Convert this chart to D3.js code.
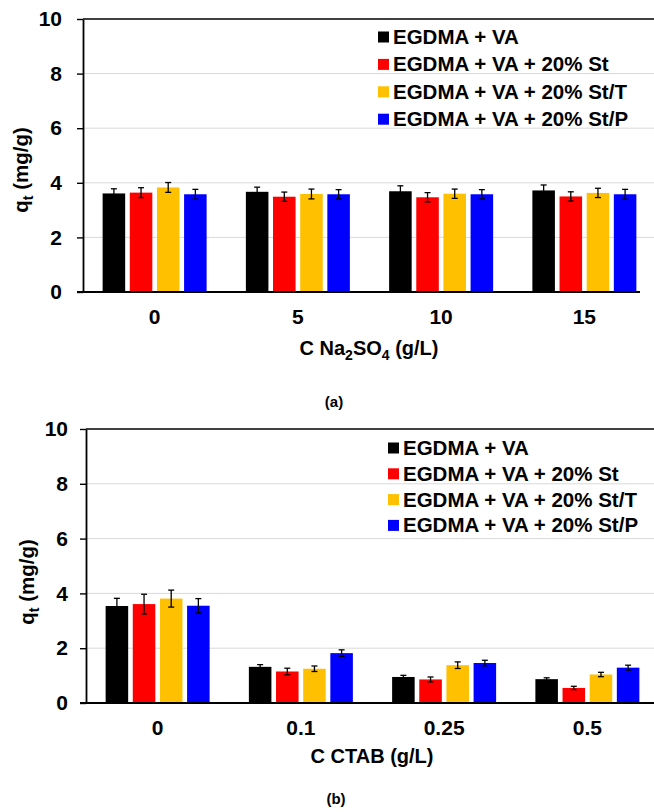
<!DOCTYPE html>
<html>
<head>
<meta charset="utf-8">
<script src="https://cdn.jsdelivr.net/npm/d3@7"></script>
<style>
  body { margin: 0; background: #fff; }
  svg { display: block; font-family: "Liberation Sans", Arial, sans-serif; }
</style>
</head>
<body>
<svg id="chart" width="654" height="812"></svg>
<script>
// series shared by both panels
const seriesNames = ["EGDMA + VA", "EGDMA + VA + 20% St", "EGDMA + VA + 20% St/T", "EGDMA + VA + 20% St/P"];
const seriesColors = ["#000000", "#ff0000", "#ffc000", "#0000ff"];
const yTicks = [0, 2, 4, 6, 8, 10];

// panel (a): Na2SO4
const catsA = ["0", "5", "10", "15"];
const valsA = [
  [3.61, 3.67, 3.69, 3.72],
  [3.64, 3.49, 3.47, 3.50],
  [3.83, 3.59, 3.60, 3.63],
  [3.58, 3.58, 3.58, 3.58]
];
const errsA = [
  [0.17, 0.17, 0.20, 0.20],
  [0.18, 0.17, 0.17, 0.17],
  [0.18, 0.18, 0.17, 0.17],
  [0.18, 0.17, 0.17, 0.18]
];

// panel (b): CTAB
const catsB = ["0", "0.1", "0.25", "0.5"];
const valsB = [
  [3.54, 1.32, 0.95, 0.87],
  [3.61, 1.15, 0.86, 0.55],
  [3.81, 1.25, 1.38, 1.04],
  [3.55, 1.82, 1.46, 1.29]
];
const errsB = [
  [0.28, 0.08, 0.06, 0.05],
  [0.36, 0.12, 0.09, 0.06],
  [0.31, 0.10, 0.12, 0.08],
  [0.26, 0.12, 0.10, 0.09]
];

const svg = d3.select("#chart");

function drawPanel(p) {
  const g = svg.append("g");
  const x = d3.scaleBand().domain(p.cats).range([p.left, p.right]);
  const xs = d3.scaleBand().domain(d3.range(seriesNames.length))
    .range([x.bandwidth() / 2 - 52, x.bandwidth() / 2 + 52]).paddingInner(0.17);
  const y = d3.scaleLinear().domain([0, 10]).range([p.bottom, p.top]);

  // gridlines
  g.append("g").selectAll("line").data(yTicks.filter(t => t > 0 && t < 10)).join("line")
    .attr("x1", p.left).attr("x2", 654)
    .attr("y1", d => y(d)).attr("y2", d => y(d))
    .attr("stroke", "#d9d9d9").attr("stroke-width", 1);

  // top border
  g.append("line").attr("x1", p.left).attr("x2", 654)
    .attr("y1", y(10)).attr("y2", y(10))
    .attr("stroke", "#000").attr("stroke-width", 1.6);

  // y axis
  const yAxis = g.append("g").attr("transform", `translate(${p.left},0)`)
    .call(d3.axisLeft(y).tickValues(yTicks).tickSize(6).tickPadding(p.tickPad).tickSizeOuter(0));
  yAxis.select(".domain").attr("stroke", "#000").attr("stroke-width", 1.8);
  yAxis.selectAll(".tick line").attr("stroke", "#000").attr("stroke-width", 1.4);
  yAxis.selectAll(".tick text").attr("font-size", 21).attr("font-weight", "bold")
    .attr("fill", "#000").attr("font-family", "Liberation Sans, Arial, sans-serif");

  // bars
  seriesNames.forEach((name, si) => {
    const sg = g.append("g");
    const rows = p.cats.map((c, ci) => ({ c, v: p.vals[si][ci], e: p.errs[si][ci] }));
    sg.selectAll("rect").data(rows).join("rect")
      .attr("x", d => x(d.c) + xs(si))
      .attr("y", d => y(d.v))
      .attr("width", xs.bandwidth())
      .attr("height", d => y(0) - y(d.v))
      .attr("fill", seriesColors[si]);
    // error bars
    const eg = sg.selectAll("g.err").data(rows).join("g").attr("class", "err")
      .attr("transform", d => `translate(${x(d.c) + xs(si) + xs.bandwidth() / 2},0)`);
    eg.append("line").attr("y1", d => y(d.v + d.e)).attr("y2", d => y(d.v - d.e))
      .attr("stroke", "#000").attr("stroke-width", 1.3);
    eg.append("line").attr("x1", -3).attr("x2", 3)
      .attr("y1", d => y(d.v + d.e)).attr("y2", d => y(d.v + d.e))
      .attr("stroke", "#000").attr("stroke-width", 1.3);
    eg.append("line").attr("x1", -3).attr("x2", 3)
      .attr("y1", d => y(d.v - d.e)).attr("y2", d => y(d.v - d.e))
      .attr("stroke", "#000").attr("stroke-width", 1.3);
  });

  // x axis line
  g.append("line").attr("x1", p.left - 6).attr("x2", p.xAxisEnd)
    .attr("y1", y(0)).attr("y2", y(0))
    .attr("stroke", "#000").attr("stroke-width", 1.8);

  // x tick labels
  g.append("g").selectAll("text").data(p.cats).join("text")
    .attr("x", d => x(d) + x.bandwidth() / 2)
    .attr("y", y(0) + 32)
    .attr("text-anchor", "middle")
    .attr("font-size", 21).attr("font-weight", "bold")
    .text(d => d);

  // x title
  const xt = g.append("text").attr("x", p.titleX).attr("y", y(0) + p.titleDy)
    .attr("text-anchor", "middle").attr("font-size", 20).attr("font-weight", "bold");
  p.xTitle.forEach(part => {
    const t = xt.append("tspan").text(part.t);
    if (part.sub) t.attr("font-size", 14).attr("dy", 5);
    else if (part.after) t.attr("dy", -5);
  });

  // y title
  const yt = g.append("text")
    .attr("transform", `translate(${p.yTitleX},${p.yTitleY}) rotate(-90)`)
    .attr("text-anchor", "middle").attr("font-size", 20.5).attr("font-weight", "bold");
  yt.append("tspan").text("q");
  yt.append("tspan").text("t").attr("font-size", 14).attr("dy", 5);
  yt.append("tspan").text(" (mg/g)").attr("dy", -5);

  // legend
  const lg = g.append("g");
  seriesNames.forEach((name, si) => {
    const ly = p.legendY + si * p.legendStep;
    lg.append("rect").attr("x", p.legendX).attr("y", ly - 5.5)
      .attr("width", 11).attr("height", 11).attr("fill", seriesColors[si]);
    lg.append("text").attr("x", p.legendX + 15).attr("y", ly + 7)
      .attr("font-size", 20.5).attr("font-weight", "bold").text(name);
  });

  // panel label
  g.append("text").attr("x", p.labelX).attr("y", p.labelY)
    .attr("text-anchor", "middle").attr("font-size", 15).attr("font-weight", "bold")
    .text(p.label);
}

drawPanel({
  cats: catsA, vals: valsA, errs: errsA,
  left: 83, right: 656, top: 19, bottom: 292, xAxisEnd: 640, tickPad: 15,
  titleX: 369, titleDy: 63,
  xTitle: [{ t: "C Na" }, { t: "2", sub: true }, { t: "SO", after: true }, { t: "4", sub: true }, { t: " (g/L)", after: true }],
  yTitleX: 28, yTitleY: 170,
  legendX: 378, legendY: 37, legendStep: 27.4,
  label: "(a)", labelX: 334, labelY: 407
});

drawPanel({
  cats: catsB, vals: valsB, errs: errsB,
  left: 86, right: 659, top: 429, bottom: 703, xAxisEnd: 654, tickPad: 12,
  titleX: 372, titleDy: 60,
  xTitle: [{ t: "C CTAB (g/L)" }],
  yTitleX: 34, yTitleY: 582,
  legendX: 388, legendY: 448, legendStep: 25.8,
  label: "(b)", labelX: 336, labelY: 804
});
</script>
</body>
</html>
